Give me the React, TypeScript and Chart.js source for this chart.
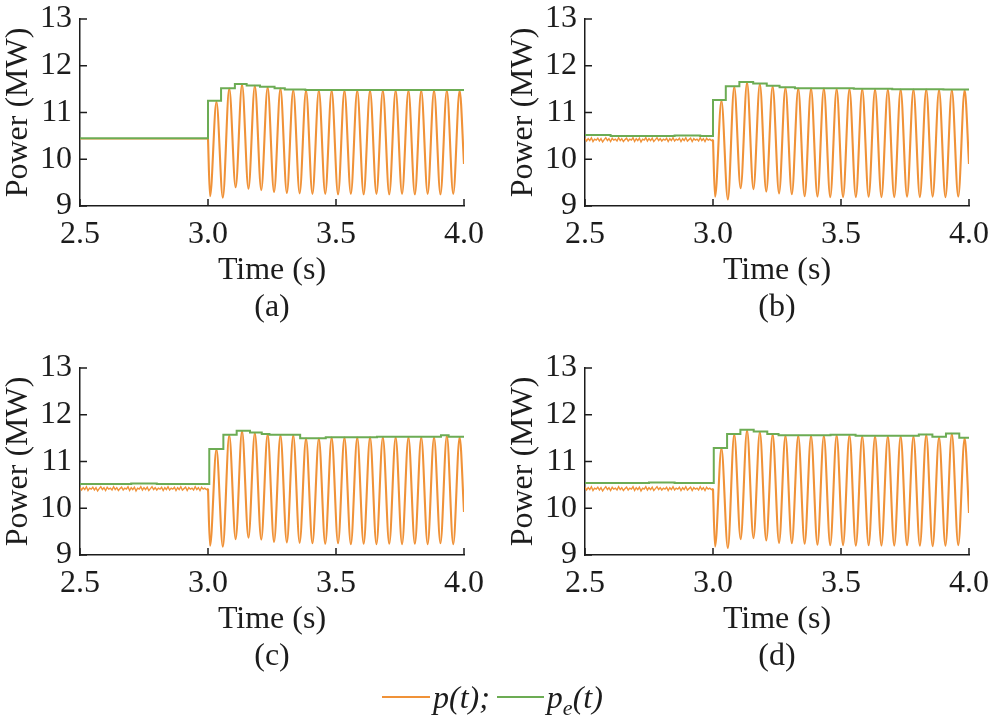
import React, { useEffect, useRef } from "react";
import Chart from "chart.js/auto";

// shared sample times of the oscillation (s)
const troughT = [3.008, 3.058, 3.108, 3.158, 3.208, 3.258, 3.308, 3.358, 3.408, 3.458, 3.508, 3.558, 3.608, 3.658, 3.708, 3.758, 3.808, 3.858, 3.908, 3.958];
const peakT = [3.033, 3.083, 3.133, 3.183, 3.233, 3.283, 3.333, 3.383, 3.433, 3.483, 3.533, 3.583, 3.633, 3.683, 3.733, 3.783, 3.833, 3.883, 3.933, 3.983];

// pre-fault ripple of p(t) in (b)-(d), MW, sampled evenly over 2.5..3.0 s
const prefaultRipple = [
  10.45, 10.39, 10.44, 10.4, 10.46, 10.38, 10.43, 10.41, 10.45, 10.39,
  10.44, 10.37, 10.42, 10.46, 10.4, 10.44, 10.38, 10.45, 10.41, 10.43,
  10.39, 10.46, 10.4, 10.44, 10.38, 10.42, 10.45, 10.39, 10.43, 10.41,
  10.46, 10.38, 10.44, 10.4, 10.45, 10.37, 10.43, 10.41, 10.46, 10.39,
  10.44, 10.4, 10.45, 10.38, 10.42, 10.46, 10.4, 10.44, 10.39, 10.43,
  10.41, 10.45, 10.38, 10.44, 10.4, 10.46, 10.39, 10.43, 10.41, 10.45,
  10.38, 10.44, 10.4, 10.46, 10.39, 10.42, 10.45, 10.38, 10.44, 10.41,
  10.43, 10.39, 10.46, 10.4, 10.44, 10.38, 10.45, 10.41, 10.43, 10.4,
  10.42,
];
const prefaultFlat = [10.44, 10.44];

// (a)
const envTA = [2.5, 3.0, 3.051, 3.105, 3.151, 3.203, 3.26, 3.3, 3.38, 4.0];
const envVA = [10.45, 11.25, 11.52, 11.61, 11.58, 11.55, 11.52, 11.49, 11.48, 11.48];
const peakA = [11.23, 11.51, 11.6, 11.57, 11.54, 11.51, 11.48, 11.47, 11.47, 11.47, 11.47, 11.47, 11.47, 11.47, 11.47, 11.47, 11.47, 11.47, 11.47, 11.47];
const troughA = [9.21, 9.18, 9.4, 9.37, 9.34, 9.3, 9.28, 9.27, 9.26, 9.26, 9.25, 9.26, 9.25, 9.26, 9.25, 9.26, 9.25, 9.26, 9.25, 9.26];

// (b)
const envTB = [2.5, 2.6, 2.85, 2.95, 3.0, 3.05, 3.103, 3.157, 3.21, 3.26, 3.32, 3.55, 3.7, 3.9, 4.0];
const envVB = [10.52, 10.5, 10.51, 10.5, 11.27, 11.56, 11.65, 11.62, 11.57, 11.54, 11.52, 11.51, 11.5, 11.49, 11.49];
const peakB = [11.25, 11.55, 11.64, 11.61, 11.56, 11.53, 11.51, 11.51, 11.51, 11.5, 11.5, 11.5, 11.49, 11.49, 11.49, 11.49, 11.49, 11.48, 11.48, 11.48];
const troughB = [9.2, 9.14, 9.38, 9.36, 9.31, 9.27, 9.25, 9.21, 9.2, 9.19, 9.19, 9.19, 9.2, 9.19, 9.19, 9.2, 9.19, 9.2, 9.19, 9.2];

// (c)
const envTC = [2.5, 2.7, 2.8, 3.005, 3.06, 3.112, 3.164, 3.21, 3.24, 3.36, 3.46, 3.66, 3.91, 3.94, 4.0];
const envVC = [10.52, 10.53, 10.52, 11.27, 11.57, 11.66, 11.62, 11.59, 11.57, 11.5, 11.52, 11.53, 11.56, 11.53, 11.53];
const peakC = [11.26, 11.56, 11.65, 11.61, 11.58, 11.56, 11.56, 11.49, 11.49, 11.51, 11.51, 11.51, 11.52, 11.52, 11.52, 11.52, 11.52, 11.52, 11.55, 11.52];
const troughC = [9.2, 9.18, 9.34, 9.37, 9.33, 9.28, 9.27, 9.26, 9.25, 9.24, 9.25, 9.23, 9.24, 9.23, 9.24, 9.23, 9.24, 9.23, 9.25, 9.23];

// (d)
const envTD = [2.5, 2.75, 2.85, 3.003, 3.055, 3.107, 3.159, 3.212, 3.256, 3.459, 3.557, 3.804, 3.857, 3.91, 3.962, 4.0];
const envVD = [10.54, 10.55, 10.54, 11.29, 11.59, 11.68, 11.64, 11.59, 11.56, 11.57, 11.55, 11.58, 11.53, 11.6, 11.51, 11.51];
const peakD = [11.28, 11.58, 11.67, 11.63, 11.58, 11.55, 11.55, 11.55, 11.55, 11.56, 11.56, 11.54, 11.54, 11.54, 11.54, 11.54, 11.57, 11.52, 11.59, 11.5];
const troughD = [9.18, 9.15, 9.34, 9.36, 9.31, 9.26, 9.25, 9.24, 9.22, 9.21, 9.21, 9.2, 9.21, 9.2, 9.2, 9.21, 9.2, 9.19, 9.2, 9.21];

// p(t) at 4.0 s
const endValues = [9.9, 9.9, 9.92, 9.9];

const xTicks = [2.5, 3.0, 3.5, 4.0];

const ORANGE = "rgb(240,146,56)";
const GREEN = "rgb(108,172,84)";
const INK = "#1c1c1c";
const FONT = "'Liberation Serif', 'Times New Roman', serif";

// tick marks pointing into the plot area
const inwardTicks = {
  id: "inwardTicks",
  afterDraw(chart: any) {
    const { ctx, chartArea, scales } = chart;
    ctx.save();
    ctx.strokeStyle = INK;
    ctx.lineWidth = 1.5;
    ctx.beginPath();
    scales.x.ticks.forEach((t: any) => {
      const px = scales.x.getPixelForValue(t.value);
      ctx.moveTo(px, chartArea.bottom);
      ctx.lineTo(px, chartArea.bottom - 7);
    });
    scales.y.ticks.forEach((t: any) => {
      const py = scales.y.getPixelForValue(t.value);
      ctx.moveTo(chartArea.left, py);
      ctx.lineTo(chartArea.left + 7, py);
    });
    ctx.stroke();
    ctx.restore();
  },
};

type PanelProps = {
  label: string;
  envT: number[];
  envV: number[];
  pre: number[];
  peaks: number[];
  troughs: number[];
  end: number;
  left: number;
  top: number;
  width: number;
};

function Panel({ label, envT, envV, pre, peaks, troughs, end, left, top, width }: PanelProps) {
  const canvasRef = useRef<HTMLCanvasElement>(null);

  useEffect(() => {
    if (!canvasRef.current) return;

    const prePoints = pre.map((v, i) => ({
      x: 2.5 + (i * 0.5) / (pre.length - 1),
      y: v,
    }));
    const oscPoints: { x: number; y: number }[] = [prePoints[prePoints.length - 1]];
    troughT.forEach((t, i) => {
      oscPoints.push({ x: t, y: troughs[i] });
      oscPoints.push({ x: peakT[i], y: peaks[i] });
    });
    oscPoints.push({ x: 4.0, y: end });

    const envPoints = envT.map((t, i) => ({ x: t, y: envV[i] }));

    const font = { family: FONT, size: 32 };

    // @ts-ignore
    const chart = new Chart(canvasRef.current, {
      type: "line",
      data: {
        datasets: [
          {
            label: "pe(t)",
            data: envPoints,
            borderColor: GREEN,
            borderWidth: 2,
            pointRadius: 0,
            stepped: true,
          },
          {
            label: "p(t) pre",
            data: prePoints,
            borderColor: ORANGE,
            borderWidth: 1.4,
            pointRadius: 0,
            tension: 0,
          },
          {
            label: "p(t)",
            data: oscPoints,
            borderColor: ORANGE,
            borderWidth: 2.1,
            pointRadius: 0,
            cubicInterpolationMode: "monotone",
          },
        ],
      },
      options: {
        animation: false,
        responsive: true,
        maintainAspectRatio: false,
        layout: { padding: { left: 0, top: 19, right: width - 464, bottom: 0 } },
        plugins: { legend: { display: false }, tooltip: { enabled: false } },
        scales: {
          x: {
            type: "linear",
            min: 2.5,
            max: 4.0,
            afterBuildTicks: (s: any) => {
              s.ticks = xTicks.map((v) => ({ value: v }));
            },
            afterFit: (s: any) => {
              s.height = 124;
              s.paddingLeft = 0;
              s.paddingRight = 0;
            },
            ticks: {
              callback: (v: any) => Number(v).toFixed(1),
              padding: 9,
              color: INK,
              font,
              maxRotation: 0,
              autoSkip: false,
            },
            grid: { drawOnChartArea: false, drawTicks: false },
            border: { color: INK, width: 1.5 },
            title: {
              display: true,
              text: ["Time (s)", label],
              color: INK,
              font: { family: FONT, size: 32, lineHeight: 1.15 },
              padding: { top: 0, bottom: 4 },
            },
          },
          y: {
            min: 9,
            max: 13,
            afterFit: (s: any) => {
              s.width = 80;
              s.paddingTop = 0;
              s.paddingBottom = 0;
            },
            ticks: {
              stepSize: 1,
              padding: 8,
              color: INK,
              font,
            },
            grid: { drawOnChartArea: false, drawTicks: false },
            border: { color: INK, width: 1.5 },
            title: {
              display: true,
              text: "Power (MW)",
              color: INK,
              font: { family: FONT, size: 32, lineHeight: 1.15 },
              padding: { top: 0, bottom: 0 },
            },
          },
        },
      },
      plugins: [inwardTicks],
    });

    return () => {
      chart.destroy();
    };
  }, []);

  return (
    <div style={{ position: "absolute", left, top, width, height: 330 }}>
      <canvas ref={canvasRef} />
    </div>
  );
}

export default function App() {
  return (
    <div
      style={{
        position: "absolute",
        left: 0,
        top: 0,
        width: 991,
        height: 722,
        overflow: "hidden",
        background: "#fff",
      }}
    >
      <Panel label="(a)" envT={envTA} envV={envVA} pre={prefaultFlat} peaks={peakA} troughs={troughA} end={endValues[0]} left={0} top={0} width={490} />
      <Panel label="(b)" envT={envTB} envV={envVB} pre={prefaultRipple} peaks={peakB} troughs={troughB} end={endValues[1]} left={505} top={0} width={486} />
      <Panel label="(c)" envT={envTC} envV={envVC} pre={prefaultRipple} peaks={peakC} troughs={troughC} end={endValues[2]} left={0} top={349} width={490} />
      <Panel label="(d)" envT={envTD} envV={envVD} pre={prefaultRipple} peaks={peakD} troughs={troughD} end={endValues[3]} left={505} top={349} width={486} />

      <div
        style={{
          position: "absolute",
          left: 382,
          top: 678,
          height: 38,
          display: "flex",
          alignItems: "center",
          fontFamily: FONT,
          fontStyle: "italic",
          fontSize: 32,
          color: INK,
          whiteSpace: "nowrap",
        }}
      >
        <span style={{ display: "inline-block", width: 48, borderTop: `2px solid ${ORANGE}`, marginRight: 3 }} />
        <span>p(t);</span>
        <span style={{ display: "inline-block", width: 47, borderTop: `2px solid ${GREEN}`, marginLeft: 7, marginRight: 3 }} />
        <span>
          p<sub style={{ fontSize: 22, verticalAlign: "-7px", lineHeight: 0 }}>e</sub>(t)
        </span>
      </div>
    </div>
  );
}
